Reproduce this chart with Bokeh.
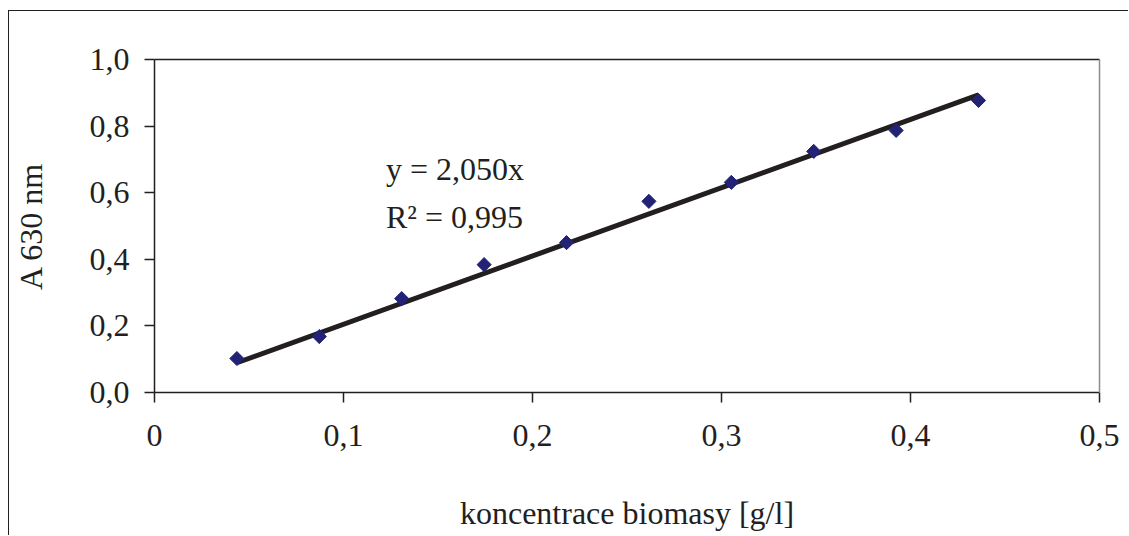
import numpy as np
from bokeh.plotting import figure
from bokeh.models import (LinearAxis, FixedTicker, CustomJSTickFormatter,
                          Range1d, ColumnDataSource)
from bokeh.core.properties import value
from bokeh.embed import file_html
from bokeh.resources import INLINE

# Calibration data: biomass concentration [g/l] vs. absorbance at 630 nm
concentration = [0.0436, 0.0872, 0.1308, 0.1744, 0.2180, 0.2616, 0.3052, 0.3488, 0.3924, 0.4360]
absorbance = [0.102, 0.168, 0.282, 0.384, 0.450, 0.574, 0.631, 0.724, 0.787, 0.877]

# Linear fit through the origin
slope = 2.050
r_squared = 0.995

x_ticks = [0, 0.1, 0.2, 0.3, 0.4, 0.5]
x_tick_labels = ["0", "0,1", "0,2", "0,3", "0,4", "0,5"]
y_ticks = [0, 0.2, 0.4, 0.6, 0.8, 1.0]
y_tick_labels = ["0,0", "0,2", "0,4", "0,6", "0,8", "1,0"]

FONT = "Liberation Serif"
INK = "#231F20"
FS = "32px"

p = figure(width=1120, height=525, output_backend="svg", toolbar_location=None,
           x_range=Range1d(0, 0.5), y_range=Range1d(0, 1.0),
           min_border_left=144, min_border_right=30, min_border_top=48, min_border_bottom=144,
           x_axis_label="koncentrace biomasy [g/l]", y_axis_label="A 630 nm")
# chart border on the left and top edges
p.margin = (10, 0, 0, 8)
p.styles = {"border-left": f"1.5px solid {INK}", "border-top": f"1.5px solid {INK}"}
p.background_fill_color = "white"
p.border_fill_color = "white"
p.grid.visible = False
p.outline_line_color = None


def tick_formatter(values, labels):
    return CustomJSTickFormatter(args=dict(tick_values=values, tick_labels=labels), code="""
        for (let i = 0; i < tick_values.length; i++) {
            if (Math.abs(tick_values[i] - tick) < 1e-9) { return tick_labels[i]; }
        }
        return "";
    """)


for ax in (p.xaxis[0], p.yaxis[0]):
    ax.axis_line_color = INK
    ax.axis_line_width = 1.5
    ax.major_tick_line_color = INK
    ax.major_tick_line_width = 1.5
    ax.major_tick_in = 0
    ax.major_tick_out = 10
    ax.minor_tick_line_color = None
    ax.major_label_text_font = FONT
    ax.major_label_text_font_size = FS
    ax.major_label_text_color = INK
    ax.axis_label_text_font = FONT
    ax.axis_label_text_font_size = FS
    ax.axis_label_text_font_style = "normal"
    ax.axis_label_text_color = INK

p.xaxis[0].ticker = FixedTicker(ticks=x_ticks)
p.xaxis[0].formatter = tick_formatter(x_ticks, x_tick_labels)
p.xaxis[0].major_label_standoff = 22
p.xaxis[0].axis_label_standoff = 46

p.yaxis[0].ticker = FixedTicker(ticks=y_ticks)
p.yaxis[0].formatter = tick_formatter(y_ticks, y_tick_labels)
p.yaxis[0].major_label_standoff = 15
p.yaxis[0].axis_label_standoff = 38
p.yaxis[0].major_label_orientation = "horizontal"

# Plot-area edges: dark top, grey right
for loc, color in (("above", INK), ("right", "#8C8C8C")):
    edge = LinearAxis(axis_line_color=color, axis_line_width=1.5,
                      major_tick_line_color=None, minor_tick_line_color=None,
                      major_label_text_font_size="0px", ticker=FixedTicker(ticks=[]))
    p.add_layout(edge, loc)

# Trend line y = slope * x across the measured range
fit_x = [concentration[0], concentration[-1]]
fit_y = [slope * v for v in fit_x]
p.line(fit_x, fit_y, line_color=INK, line_width=5)

src = ColumnDataSource(dict(x=concentration, y=absorbance))
p.scatter("x", "y", source=src, marker="square", angle=np.pi / 4, size=10,
          fill_color="#222277", line_color="#222277")

# Regression equation
eq_x = 0.1225
eq_y = [0.670, 0.526]
eq_text = ["y = " + f"{slope:.3f}".replace(".", ",") + "x",
           "R\u00b2 = " + f"{r_squared:.3f}".replace(".", ",")]
p.text(x=[eq_x, eq_x], y=eq_y, text=eq_text, text_font=value(FONT),
       text_font_size=value(FS), text_color=INK, text_baseline="alphabetic")

open("out.html", "w").write(file_html(p, INLINE))
